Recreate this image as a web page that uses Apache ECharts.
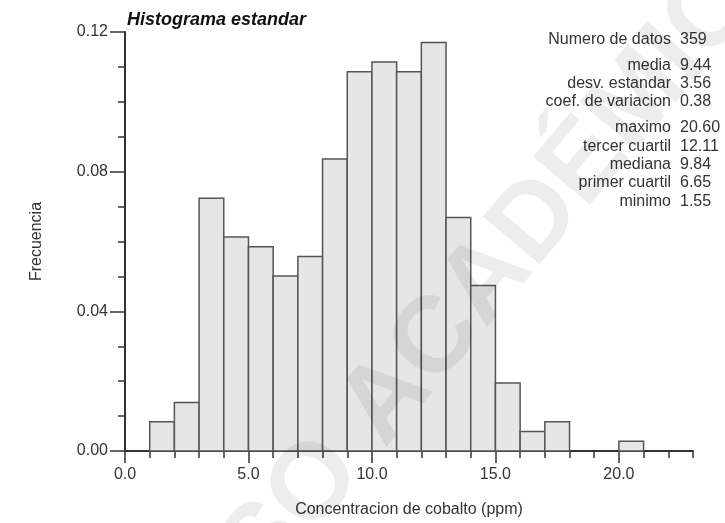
<!DOCTYPE html>
<html>
<head>
<meta charset="utf-8">
<script src="https://cdn.jsdelivr.net/npm/echarts@6/dist/echarts.min.js"></script>
<style>html,body{margin:0;padding:0;background:#fff;}#c{width:725px;height:523px;}</style>
</head>
<body>
<div id="c"></div>
<script>
// ---- data ----
const binLow  = [1, 2, 3, 4, 5, 6, 7, 8, 9, 10, 11, 12, 13, 14, 15, 16, 17, 18, 19, 20];
const binHigh = [2, 3, 4, 5, 6, 7, 8, 9, 10, 11, 12, 13, 14, 15, 16, 17, 18, 19, 20, 21];
const frecuencia = [0.0084, 0.0139, 0.0724, 0.0613, 0.0585, 0.0501, 0.0557, 0.0836, 0.1086, 0.1114,
                    0.1086, 0.1170, 0.0669, 0.0474, 0.0195, 0.0056, 0.0084, 0, 0, 0.0028];
const xMajorTicks = [0, 5, 10, 15, 20];
const statLabels = ['Numero de datos', 'media', 'desv. estandar', 'coef. de variacion',
                    'maximo', 'tercer cuartil', 'mediana', 'primer cuartil', 'minimo'];
const statValues = ['359', '9.44', '3.56', '0.38', '20.60', '12.11', '9.84', '6.65', '1.55'];

// ---- layout ----
const FONT = "'Liberation Sans', Arial, Helvetica, sans-serif";
const statRowY = [40, 66, 84, 102, 128, 147, 165, 183, 202];
const AX = '#333';

const chart = echarts.init(document.getElementById('c'), null, {renderer: 'canvas'});

const graphics = [
  {type: 'text', x: 127, y: 20, z: 50,
   style: {text: 'Histograma estandar', fontFamily: FONT, fontSize: 18, fontWeight: 'bold',
           fontStyle: 'italic', fill: '#111', align: 'left', verticalAlign: 'middle'}}
];
statLabels.forEach((t, i) => {
  graphics.push({type: 'text', x: 671, y: statRowY[i], z: 50,
    style: {text: t, fontFamily: FONT, fontSize: 16, fill: '#333', align: 'right', verticalAlign: 'middle'}});
  graphics.push({type: 'text', x: 680, y: statRowY[i], z: 50,
    style: {text: statValues[i], fontFamily: FONT, fontSize: 16, fill: '#333', align: 'left', verticalAlign: 'middle'}});
});
// watermark
graphics.push({type: 'text', x: 491, y: 276, rotation: 50 * Math.PI / 180, z: 100,
  style: {text: 'USO ACADÉMICO', fontFamily: FONT, fontSize: 108, fontWeight: 'bold',
          fill: 'rgba(0,0,0,0.07)', align: 'center', verticalAlign: 'middle'}});

const option = {
  backgroundColor: '#fff',
  animation: false,
  grid: {left: 125, right: 32, top: 32, bottom: 70, containLabel: false},
  xAxis: [
    {type: 'value', min: 0, max: 23, interval: 1,
     name: 'Concentracion de cobalto (ppm)', nameLocation: 'middle', nameGap: 51,
     nameTextStyle: {fontFamily: FONT, fontSize: 16, color: '#333'},
     axisLine: {show: true, onZero: false, lineStyle: {color: AX, width: 2}},
     axisTick: {show: true, length: 12, customValues: xMajorTicks, lineStyle: {color: AX, width: 1.5}},
     axisLabel: {show: true, customValues: xMajorTicks, margin: 16, fontFamily: FONT, fontSize: 16, color: '#333',
                 formatter: v => v.toFixed(1)},
     splitLine: {show: false}},
    {type: 'value', min: 0, max: 23, interval: 1, position: 'bottom', offset: 0,
     axisLine: {show: false, onZero: false},
     axisTick: {show: true, length: 7, lineStyle: {color: AX, width: 1.5}},
     axisLabel: {show: false},
     splitLine: {show: false}}
  ],
  yAxis: {
    type: 'value', min: 0, max: 0.12, interval: 0.04,
    name: 'Frecuencia', nameLocation: 'middle', nameGap: 80, nameRotate: 90,
    nameTextStyle: {fontFamily: FONT, fontSize: 16, color: '#333'},
    axisLine: {show: true, lineStyle: {color: AX, width: 2}},
    axisTick: {show: true, length: 15, lineStyle: {color: AX, width: 1.5}},
    minorTick: {show: true, splitNumber: 4, length: 7, lineStyle: {color: AX, width: 1.5}},
    axisLabel: {margin: 17, fontFamily: FONT, fontSize: 16, color: '#333', padding: [0, 0, 8, 0],
                formatter: v => v.toFixed(2)},
    splitLine: {show: false}, minorSplitLine: {show: false}
  },
  graphic: {elements: graphics},
  series: [{
    type: 'custom',
    xAxisIndex: 0, yAxisIndex: 0,
    encode: {x: [0, 1], y: 2},
    data: binLow.map((lo, i) => [lo, binHigh[i], frecuencia[i]]).filter(d => d[2] > 0),
    renderItem: function (params, api) {
      const p0 = api.coord([api.value(0), api.value(2)]);
      const p1 = api.coord([api.value(1), 0]);
      return {type: 'rect',
              shape: {x: p0[0], y: p0[1], width: p1[0] - p0[0], height: p1[1] - p0[1]},
              style: {fill: '#e6e6e6', stroke: '#555', lineWidth: 1.5}};
    },
    z: 2
  }]
};
chart.setOption(option);
</script>
</body>
</html>
